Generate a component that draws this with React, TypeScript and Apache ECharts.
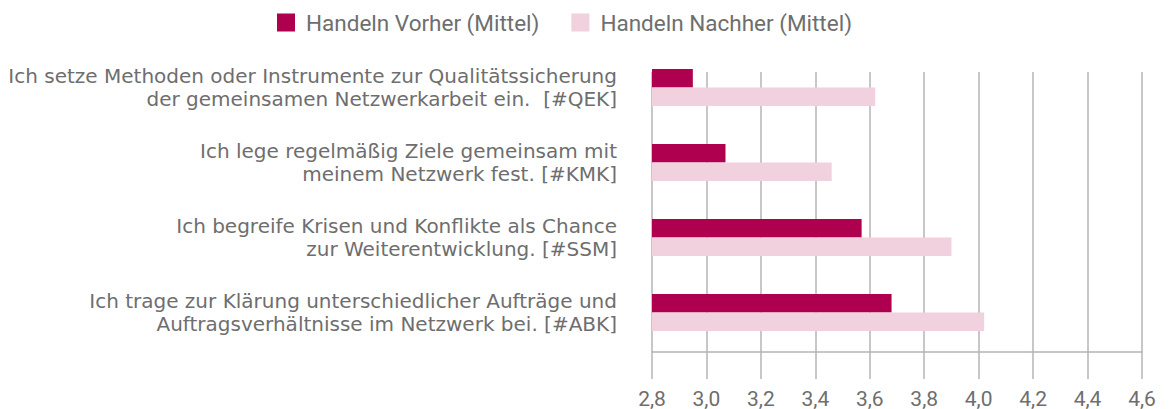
import React, { useEffect, useRef } from "react";
import * as echarts from "echarts";

const categories = [
  "Ich setze Methoden oder Instrumente zur Qualitätssicherung\nder gemeinsamen Netzwerkarbeit ein.  [#QEK]",
  "Ich lege regelmäßig Ziele gemeinsam mit\nmeinem Netzwerk fest. [#KMK]",
  "Ich begreife Krisen und Konflikte als Chance\nzur Weiterentwicklung. [#SSM]",
  "Ich trage zur Klärung unterschiedlicher Aufträge und\nAuftragsverhältnisse im Netzwerk bei. [#ABK]",
];
const seriesNames = ["Handeln Vorher (Mittel)", "Handeln Nachher (Mittel)"];
const vorher = [2.95, 3.07, 3.57, 3.68];
const nachher = [3.62, 3.46, 3.9, 4.02];
const axisMin = 2.8;
const axisMax = 4.6;
const axisStep = 0.2;

const TEXT = "#6e6e6e";
const GRID = "#b4b4b4";
const FONT = "Roboto";
const LABEL_FONT = "DejaVu Sans";

export default function App() {
  const ref = useRef<HTMLDivElement>(null);
  useEffect(() => {
    if (!ref.current) return;
    const chart = echarts.init(ref.current, null, { renderer: "svg" });
    const fmt = (v: number) => v.toFixed(1).replace(".", ",");
    chart.setOption({
      animation: false,
      textStyle: { fontFamily: FONT },
      legend: {
        top: 11,
        left: 277,
        icon: "rect",
        padding: 0,
        itemWidth: 18,
        itemHeight: 18,
        itemGap: 32,
        textStyle: { color: TEXT, fontSize: 22.5, fontFamily: FONT, padding: [0, 0, 0, 6] },
        data: seriesNames,
      },
      grid: [
        { left: 652, right: 31, top: 50, height: 300 },
        { left: 652, right: 31, top: 72, height: 280 },
      ],
      xAxis: [
        {
          gridIndex: 0,
          type: "value",
          min: axisMin,
          max: axisMax,
          interval: axisStep,
          show: false,
        },
        {
          gridIndex: 1,
          type: "value",
          min: axisMin,
          max: axisMax,
          interval: axisStep,
          axisLine: { show: true, lineStyle: { color: GRID, width: 1.5 } },
          axisTick: { show: true, length: 27, lineStyle: { color: GRID, width: 1.5 } },
          splitLine: { show: true, lineStyle: { color: GRID, width: 1.5 } },
          axisLabel: {
            color: TEXT,
            fontSize: 21,
            fontFamily: FONT,
            margin: 36,
            formatter: fmt,
          },
        },
      ],
      yAxis: [
        {
          gridIndex: 0,
          type: "category",
          inverse: true,
          data: categories,
          axisLine: { show: false },
          axisTick: { show: false },
          splitLine: { show: false },
          axisLabel: {
            color: TEXT,
            fontSize: 20,
            fontFamily: LABEL_FONT,
            lineHeight: 23,
            margin: 35,
            align: "right",
          },
        },
        {
          gridIndex: 1,
          type: "category",
          data: categories,
          show: false,
        },
      ],
      series: [
        {
          name: seriesNames[0],
          type: "bar",
          xAxisIndex: 0,
          yAxisIndex: 0,
          data: vorher,
          barWidth: 18.5,
          barGap: "0%",
          itemStyle: { color: "#af0050" },
        },
        {
          name: seriesNames[1],
          type: "bar",
          xAxisIndex: 0,
          yAxisIndex: 0,
          data: nachher,
          barWidth: 18.5,
          barGap: "0%",
          itemStyle: { color: "#f0d1dd" },
        },
      ],
    });
    return () => chart.dispose();
  }, []);
  return (
    <div
      ref={ref}
      style={{ position: "fixed", left: 0, top: 0, width: 1173, height: 409, background: "#fff" }}
    />
  );
}
